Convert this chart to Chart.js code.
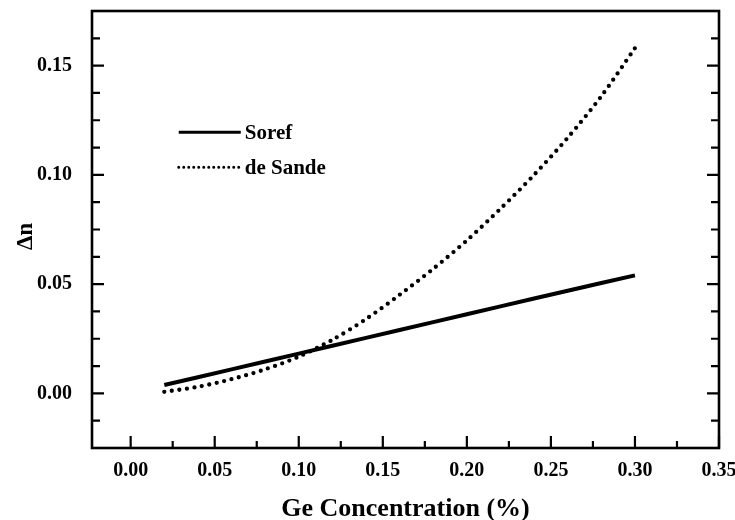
<!DOCTYPE html>
<html>
<head>
<meta charset="utf-8">
<script src="https://cdn.jsdelivr.net/npm/chart.js@4"></script>
<style>
  html, body { margin: 0; padding: 0; background: #fff; }
  #wrap { width: 735px; height: 520px; }
</style>
</head>
<body>
<div id="wrap"><canvas id="dn"></canvas></div>
<script>
// Ge concentration (%)
const geConc = [0.02, 0.04, 0.06, 0.08, 0.10, 0.12, 0.14, 0.16, 0.18, 0.20, 0.22, 0.24, 0.26, 0.28, 0.30];
// index change, Soref model
const soref = [0.0038, 0.0074, 0.0110, 0.0146, 0.0182, 0.0218, 0.0254, 0.0290, 0.0326, 0.0362, 0.0398, 0.0434, 0.0470, 0.0505, 0.0540];
// index change, de Sande model
const deSande = [0.0007, 0.0030, 0.0065, 0.0110, 0.0168, 0.0245, 0.0340, 0.0451, 0.0570, 0.0700, 0.0845, 0.1000, 0.1170, 0.1360, 0.1580];

const seriesNames = ['Soref', 'de Sande'];
const xTicks = [0.00, 0.05, 0.10, 0.15, 0.20, 0.25, 0.30, 0.35];
const yTicks = [0.00, 0.05, 0.10, 0.15];
const yTitle = 'Δn';

const serif = "'Liberation Serif', 'Times New Roman', serif";
const dotDash = [0, 7.6];

function toXY(xs, ys) {
  return xs.map((x, i) => ({ x: x, y: ys[i] }));
}

// frame, inward ticks, y title and the in-plot legend
const framePlugin = {
  id: 'frame',
  afterDraw(chart) {
    const c = chart.ctx;
    const a = chart.chartArea;
    const xs = chart.scales.x, ys = chart.scales.y;
    c.save();
    c.strokeStyle = '#000';
    c.lineWidth = 2.6;
    c.strokeRect(a.left, a.top, a.right - a.left, a.bottom - a.top);

    c.lineWidth = 2.2;
    // bottom axis ticks
    for (let v = 0; v <= 0.3501; v += 0.025) {
      const px = xs.getPixelForValue(v);
      const major = Math.abs(v / 0.05 - Math.round(v / 0.05)) < 1e-6;
      c.beginPath();
      c.moveTo(px, a.bottom);
      c.lineTo(px, a.bottom - (major ? 12 : 7));
      c.stroke();
    }
    // left and right axis ticks
    for (let v = -0.0125; v <= 0.1626; v += 0.0125) {
      const py = ys.getPixelForValue(v);
      const major = Math.abs(v / 0.05 - Math.round(v / 0.05)) < 1e-6;
      const len = major ? 12 : 8;
      c.beginPath();
      c.moveTo(a.left, py);
      c.lineTo(a.left + len, py);
      c.moveTo(a.right, py);
      c.lineTo(a.right - len, py);
      c.stroke();
    }

    // y axis title, a little below the middle of the frame
    c.fillStyle = '#000';
    c.font = 'bold 23px ' + serif;
    c.textAlign = 'center';
    c.textBaseline = 'middle';
    c.save();
    c.translate(26, (a.top + a.bottom) / 2 + 7);
    c.rotate(-Math.PI / 2);
    c.fillText(yTitle, 0, 0);
    c.restore();

    // legend
    const lx0 = xs.getPixelForValue(0.0286);
    const lx1 = xs.getPixelForValue(0.0655);
    const rows = [
      { y: ys.getPixelForValue(0.1195), ds: chart.data.datasets[0] },
      { y: ys.getPixelForValue(0.1035), ds: chart.data.datasets[1] }
    ];
    c.font = 'bold 21px ' + serif;
    c.textAlign = 'left';
    rows.forEach(r => {
      const dotted = r.ds.borderDash.length > 0;
      c.beginPath();
      c.lineWidth = dotted ? 3 : 3.2;
      c.lineCap = dotted ? 'round' : 'butt';
      c.setLineDash(dotted ? [0, 5] : []);
      c.moveTo(lx0, r.y);
      c.lineTo(lx1, r.y);
      c.stroke();
      c.setLineDash([]);
      c.fillText(r.ds.label, lx1 + 4, r.y + 1);
    });
    c.restore();
  }
};

new Chart(document.getElementById('dn'), {
  type: 'line',
  data: {
    datasets: [{
      label: seriesNames[0],
      data: toXY(geConc, soref),
      borderColor: '#000',
      borderWidth: 4,
      borderDash: [],
      pointRadius: 0,
      fill: false,
      tension: 0
    }, {
      label: seriesNames[1],
      data: toXY(geConc, deSande),
      borderColor: '#000',
      borderWidth: 4.3,
      borderDash: dotDash,
      borderCapStyle: 'round',
      pointRadius: 0,
      fill: false,
      tension: 0.3
    }]
  },
  options: {
    responsive: true,
    maintainAspectRatio: false,
    animation: false,
    layout: { padding: { left: 0, right: 16, top: 11, bottom: 0 } },
    plugins: { legend: { display: false }, tooltip: { enabled: false } },
    scales: {
      x: {
        type: 'linear',
        min: -0.023,
        max: 0.35,
        afterFit: s => { s.height = 72; s.paddingLeft = 0; s.paddingRight = 0; },
        afterBuildTicks: s => { s.ticks = xTicks.map(v => ({ value: v })); },
        grid: { display: false },
        border: { display: false },
        ticks: {
          color: '#000',
          padding: 3,
          font: { family: serif, size: 20, weight: 'bold' },
          callback: v => v.toFixed(2)
        },
        title: {
          display: true,
          text: 'Ge Concentration (%)',
          color: '#000',
          font: { family: serif, size: 26, weight: 'bold', lineHeight: 0.85 },
          padding: { top: 0, bottom: 0 }
        }
      },
      y: {
        type: 'linear',
        min: -0.025,
        max: 0.175,
        afterFit: s => { s.width = 92; s.paddingTop = 0; s.paddingBottom = 0; },
        afterBuildTicks: s => { s.ticks = yTicks.map(v => ({ value: v })); },
        grid: { display: false },
        border: { display: false },
        ticks: {
          color: '#000',
          padding: 12,
          font: { family: serif, size: 20, weight: 'bold' },
          callback: v => v.toFixed(2)
        }
      }
    }
  },
  plugins: [framePlugin]
});
</script>
</body>
</html>
